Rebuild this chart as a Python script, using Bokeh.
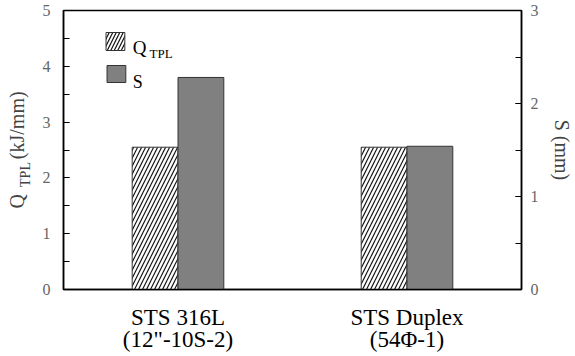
from bokeh.plotting import figure
from bokeh.models import (Range1d, FactorRange, LinearAxis, SingleIntervalTicker,
                          FixedTicker, ColumnDataSource, Label, BoxAnnotation)
from bokeh.transform import dodge
from bokeh.embed import file_html
from bokeh.resources import INLINE

# ---- data ----
categories = ["STS 316L\n(12\"-10S-2)", "STS Duplex\n(54\u03a6-1)"]
q_tpl = [2.55, 2.55]      # kJ/mm (left axis)
s_mm = [2.28, 1.54]       # mm (right axis)

FONT = "Liberation Serif"
NB = "\u00a0"

src = ColumnDataSource(dict(cat=categories, q=q_tpl, s=s_mm))

p = figure(width=575, height=356, output_backend="svg", toolbar_location=None,
           x_range=FactorRange(*categories, range_padding=0),
           y_range=Range1d(0, 5),
           min_border_left=63, min_border_right=49, min_border_top=10, min_border_bottom=67)
p.extra_y_ranges = {"s": Range1d(0, 3)}

p.xgrid.visible = False
p.ygrid.visible = False
p.outline_line_color = "black"
p.outline_line_width = 1.5
p.background_fill_color = "white"
p.border_fill_color = "white"

# bars
p.vbar(x=dodge("cat", -0.1, range=p.x_range), top="q", width=0.2, source=src,
       fill_color="white", line_color="#333333", line_width=1,
       hatch_pattern="/", hatch_color="#111111", hatch_scale=8, hatch_weight=1.2)
p.vbar(x=dodge("cat", 0.1, range=p.x_range), top="s", width=0.2, source=src,
       y_range_name="s", fill_color="#808080", line_color="#333333", line_width=1)

# x axis
xa = p.xaxis[0]
xa.axis_line_color = "black"
xa.axis_line_width = 1.5
xa.major_tick_in = 0
xa.major_tick_out = 0
xa.minor_tick_line_color = None
xa.major_label_text_font = FONT
xa.major_label_text_font_size = "23px"
xa.major_label_text_line_height = 0.89
xa.major_label_text_color = "black"
xa.major_label_standoff = 15


def style_ticks(ax):
    ax.axis_line_width = 1.5
    ax.axis_line_color = "black"
    ax.major_tick_in = 6
    ax.major_tick_out = 0
    ax.minor_tick_in = 6
    ax.minor_tick_out = 0
    ax.major_tick_line_width = 1.2
    ax.minor_tick_line_width = 1.2
    ax.major_label_text_font = FONT
    ax.major_label_text_font_size = "16px"
    ax.major_label_text_color = "#666666"


# left axis (ticks + subscript part of the label)
ya = p.yaxis[0]
ya.ticker = SingleIntervalTicker(interval=1, num_minor_ticks=2)
style_ticks(ya)
ya.major_label_standoff = 13
ya.axis_label = "TPL" + NB * 14
ya.axis_label_text_font = FONT
ya.axis_label_text_font_size = "14px"
ya.axis_label_text_font_style = "normal"
ya.axis_label_standoff = 7

# outer left axis carrying the main part of the label
la = LinearAxis(ticker=FixedTicker(ticks=[]), axis_label="Q" + NB * 7 + "(kJ/mm)")
la.axis_line_color = None
la.major_tick_in = 0
la.major_tick_out = 0
la.minor_tick_in = 0
la.minor_tick_out = 0
la.axis_label_text_font = FONT
la.axis_label_text_font_size = "20px"
la.axis_label_text_font_style = "normal"
la.axis_label_standoff = -13
p.add_layout(la, "left")

# right axis
ra = LinearAxis(y_range_name="s",
                ticker=SingleIntervalTicker(interval=1, num_minor_ticks=2),
                axis_label="S (mm)")
style_ticks(ra)
ra.major_label_standoff = 9
ra.axis_label_text_font = FONT
ra.axis_label_text_font_size = "20px"
ra.axis_label_text_font_style = "normal"
ra.axis_label_standoff = 9
p.add_layout(ra, "right")


# legend (inside the frame)
def xd(px):
    return (px - 63) / 231.5


def yd(py):
    return (289 - py) / 55.8


p.add_layout(BoxAnnotation(left=xd(106), right=xd(125), top=yd(32), bottom=yd(50),
                           fill_color="white", fill_alpha=1, line_color="#333333",
                           line_alpha=1, line_width=1,
                           hatch_pattern="/", hatch_color="#111111", hatch_scale=7,
                           hatch_weight=1.2))
p.add_layout(BoxAnnotation(left=xd(107), right=xd(126), top=yd(65), bottom=yd(82),
                           fill_color="#808080", fill_alpha=1, line_color="#333333",
                           line_alpha=1, line_width=1))
for txt, x, y, size in [("Q", 133, 47, "19px"), ("TPL", 150, 53, "13px"),
                        ("S", 133, 81, "18px")]:
    p.add_layout(Label(x=xd(x), y=yd(y), text=txt,
                       text_font=FONT, text_font_size=size,
                       text_align="left", text_baseline="alphabetic",
                       text_color="black"))

open("out.html", "w").write(file_html(p, INLINE))
